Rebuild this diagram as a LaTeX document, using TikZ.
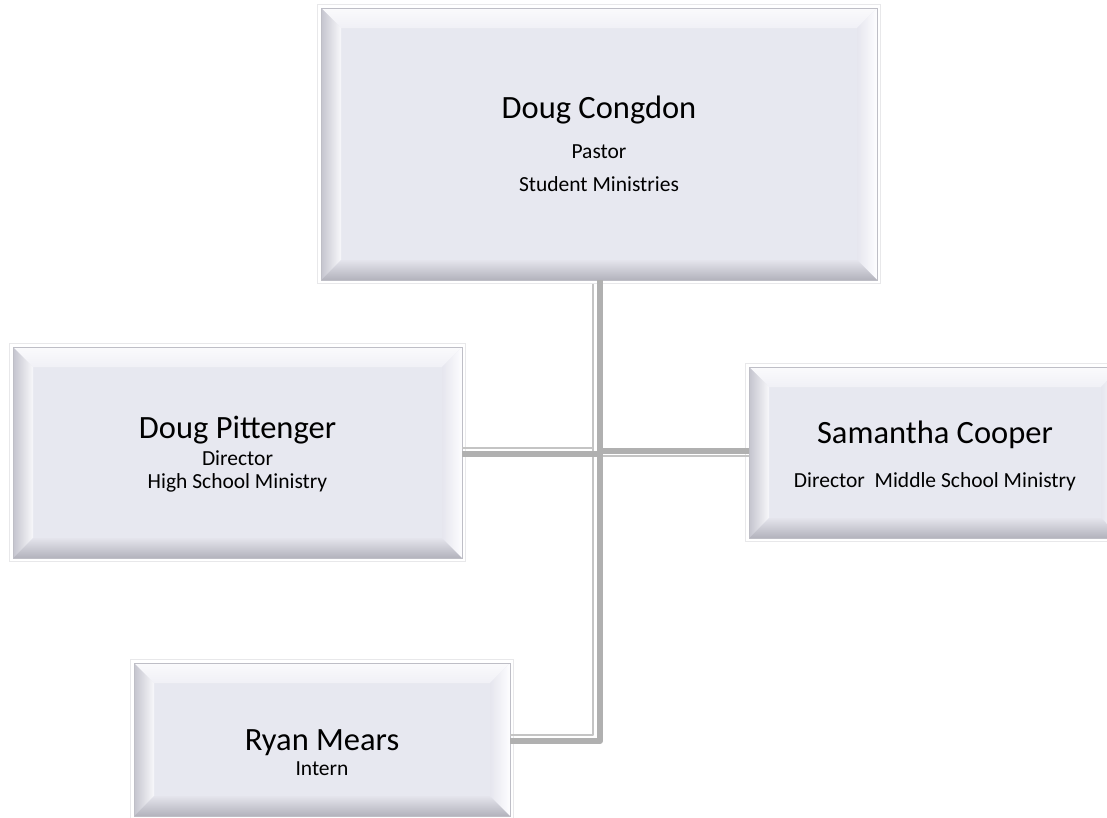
\documentclass[tikz,border=0pt]{standalone}
\usepackage{fontspec}
\setmainfont{Carlito}
\usetikzlibrary{calc}
\definecolor{boxfill}{RGB}{231,232,240}
\definecolor{edgegray}{RGB}{190,190,198}
\definecolor{framegray}{RGB}{232,232,234}
\definecolor{topOut}{RGB}{250,250,252}
\definecolor{topIn}{RGB}{240,240,246}
\definecolor{leftOut}{RGB}{196,196,206}
\definecolor{leftIn}{RGB}{248,248,251}
\definecolor{rightIn}{RGB}{230,230,238}
\definecolor{rightOut}{RGB}{253,253,255}
\definecolor{botIn}{RGB}{228,228,236}
\definecolor{botOut}{RGB}{178,178,188}
\definecolor{conthick}{RGB}{176,176,176}
\definecolor{conthin}{RGB}{196,196,196}
\tikzset{
  person/.style={rectangle, inner sep=0pt, outer sep=0pt, fill=boxfill, align=center, text depth=0pt, text=black},
  boxedge/.style={draw=edgegray, line width=0.8pt},
  boxframe/.style={draw=framegray, line width=1.5pt},
  thickcon/.style={draw=conthick, line width=6pt, line join=round},
  thincon/.style={draw=conthin, line width=1.6pt, line join=round},
}
\newcommand\nmfont{\fontsize{32.5}{33}\selectfont}
\newcommand\bevelframe[1]{%
  \draw[boxframe] ($(#1.north west)+(-3.5,-3.5)$) rectangle ($(#1.south east)+(3.5,3.5)$);
}
\newcommand\bevelbox[1]{%
  \shade[top color=topOut, bottom color=topIn] (#1.north west) -- (#1.north east) -- ($(#1.north east)+(-20,20)$) -- ($(#1.north west)+(20,20)$) -- cycle;
  \shade[left color=leftOut, right color=leftIn] (#1.north west) -- ($(#1.north west)+(20,20)$) -- ($(#1.south west)+(20,-20)$) -- (#1.south west) -- cycle;
  \shade[left color=rightIn, right color=rightOut] (#1.north east) -- ($(#1.north east)+(-20,20)$) -- ($(#1.south east)+(-20,-20)$) -- (#1.south east) -- cycle;
  \shade[top color=botIn, bottom color=botOut] (#1.south west) -- ($(#1.south west)+(20,-20)$) -- ($(#1.south east)+(-20,-20)$) -- (#1.south east) -- cycle;
  \draw[boxedge] (#1.north west) rectangle (#1.south east);
}
\begin{document}
\begin{tikzpicture}[x=1pt,y=-1pt]
\useasboundingbox (0,0) rectangle (1107,817);
\clip (0,0) rectangle (1107,817);
\fill[white] (0,0) rectangle (1107,817);

\node[person, minimum width=556pt, minimum height=272pt, text height=94pt, font=\fontsize{21.5}{33}\selectfont] (congdon) at (599,144)
  {{\nmfont Doug Congdon}\\[7pt]Pastor\\Student Ministries};
\node[person, minimum width=449pt, minimum height=211pt, text height=71pt, font=\fontsize{21.5}{23}\selectfont] (pittenger) at (237.5,452.5)
  {{\nmfont Doug Pittenger}\\[4pt]Director\\High School Ministry};
\node[person, minimum width=372pt, minimum height=171pt, text height=69pt, font=\fontsize{21.5}{23}\selectfont] (cooper) at (935,452.5)
  {{\nmfont Samantha Cooper}\\[21pt]Director\ \ Middle School Ministry};
\node[person, minimum width=376pt, minimum height=153pt, text height=71pt, font=\fontsize{21.5}{25}\selectfont] (mears) at (322,739.5)
  {{\nmfont Ryan Mears}\\Intern};

\foreach \n in {congdon,pittenger,cooper,mears} {\bevelframe{\n}}
\foreach \n in {congdon,pittenger,cooper,mears} {\bevelbox{\n}}

% connectors
\draw[thickcon] ($(congdon.south)+(1,0)$) |- ($(mears.east)+(0,1.5)$);
\draw[thincon] ($(congdon.south)+(-6,4)$) |- ($(mears.east)+(0,-4.5)$);
\draw[thickcon] ($(pittenger.east)+(0,1.5)$) -- ($(congdon.south |- pittenger.east)+(-2,1.5)$);
\draw[thincon] ($(pittenger.east)+(0,-4.5)$) -- ($(congdon.south |- pittenger.east)+(-6,-4.5)$);
\draw[thickcon] ($(congdon.south |- cooper.west)+(4,-2)$) -- ($(cooper.west)+(0,-2)$);
\draw[thincon] ($(congdon.south |- cooper.west)+(4,3.5)$) -- ($(cooper.west)+(0,3.5)$);
\end{tikzpicture}
\end{document}
